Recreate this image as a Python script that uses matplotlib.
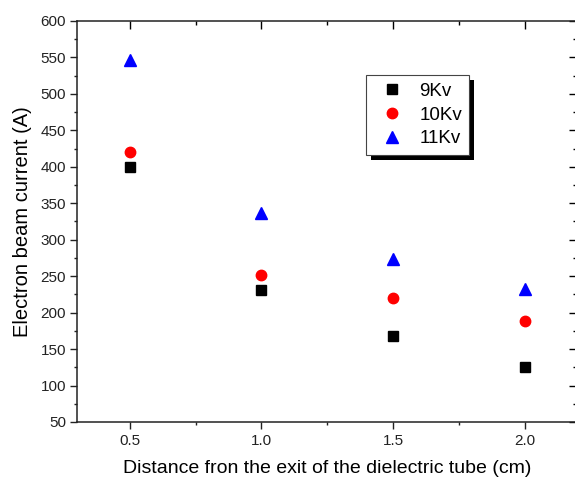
import matplotlib
matplotlib.use("Agg")
import matplotlib.pyplot as plt
from matplotlib.ticker import MultipleLocator
from matplotlib.patches import Rectangle
from matplotlib.transforms import IdentityTransform

plt.rcParams['font.family'] = ['Liberation Sans', 'DejaVu Sans']

# data
distance = [0.5, 1.0, 1.5, 2.0]
current_9kv = [400, 231, 168, 126]
current_10kv = [420, 252, 220, 188]
current_11kv = [547, 337, 273, 232]
series_labels = ['9Kv', '10Kv', '11Kv']

fig = plt.figure(figsize=(5.75, 4.82), dpi=100)
ax = fig.add_axes([0.134, 0.1245, 0.870, 0.832])

ax.plot(distance, current_9kv, 's', color='black', ms=6.5, label=series_labels[0])
ax.plot(distance, current_10kv, 'o', color='red', ms=7.5, label=series_labels[1])
ax.plot(distance, current_11kv, '^', color='blue', ms=8.5, label=series_labels[2])

ax.set_xlim(0.3, 2.2)
ax.set_ylim(50, 600)
ax.xaxis.set_major_locator(MultipleLocator(0.5))
ax.xaxis.set_minor_locator(MultipleLocator(0.25))
ax.yaxis.set_major_locator(MultipleLocator(50))
ax.yaxis.set_minor_locator(MultipleLocator(25))
ax.xaxis.set_major_formatter(plt.FormatStrFormatter('%.1f'))

for s in ax.spines.values():
    s.set_linewidth(1.1)
    s.set_color('#222222')

ax.tick_params(which='major', direction='out', length=5, width=1, labelsize=11, colors='#222222')
ax.tick_params(which='minor', direction='out', length=2.5, width=1, colors='#222222')
ax.tick_params(axis='y', which='major', pad=3)
ax.tick_params(axis='x', which='major', pad=4)

# inward ticks on top and right, no labels
top = ax.secondary_xaxis('top')
top.xaxis.set_major_locator(MultipleLocator(0.5))
top.xaxis.set_minor_locator(MultipleLocator(0.25))
top.tick_params(which='major', direction='in', length=5.8, width=1, labeltop=False)
top.tick_params(which='minor', direction='in', length=3, width=1)
top.spines['top'].set_visible(False)
right = ax.secondary_yaxis('right')
right.yaxis.set_major_locator(MultipleLocator(50))
right.yaxis.set_minor_locator(MultipleLocator(25))
right.tick_params(which='major', direction='in', length=5.8, width=1, labelright=False)
right.tick_params(which='minor', direction='in', length=3, width=1)

ax.set_xlabel('Distance fron the exit of the dielectric tube (cm)', fontsize=14, labelpad=8)
ax.set_ylabel('Electron beam current (A)', fontsize=14.5, labelpad=6)

leg = ax.legend(loc='upper left', bbox_to_anchor=(0.577, 0.865), fontsize=13.5,
                frameon=True, fancybox=False, edgecolor='#444444', framealpha=1,
                borderpad=0.4, labelspacing=0.36, handletextpad=0.45,
                handlelength=2.0, borderaxespad=0)
leg.get_frame().set_linewidth(0.8)
leg.set_zorder(5)

fig.canvas.draw()
bb = leg.get_window_extent()
shadow = Rectangle((bb.x0 + 5, bb.y0 - 5), bb.width, bb.height,
                   transform=IdentityTransform(), facecolor='black',
                   edgecolor='none', zorder=4, clip_on=False)
ax.add_artist(shadow)

fig.savefig('out.png', dpi=100)
